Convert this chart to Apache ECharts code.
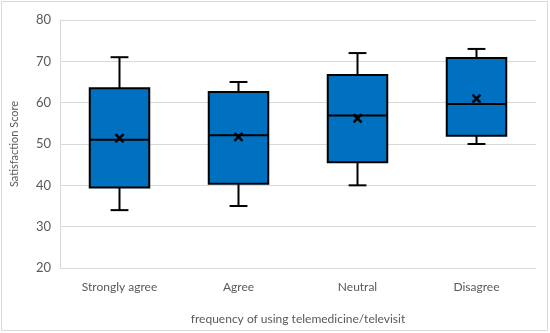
<!DOCTYPE html>
<html>
<head>
<meta charset="utf-8">
<script src="https://cdn.jsdelivr.net/npm/echarts@6/dist/echarts.min.js"></script>
<style>html,body{margin:0;padding:0;background:#fff}#c{width:550px;height:333px}</style>
</head>
<body>
<div id="c"></div>
<script>
var categories = ['Strongly agree', 'Agree', 'Neutral', 'Disagree'];
var whiskerMin = [34, 35, 40, 50];
var q1 = [39.5, 40.4, 45.6, 52.0];
var median = [51.0, 52.1, 56.9, 59.7];
var q3 = [63.5, 62.6, 66.7, 70.8];
var whiskerMax = [71, 65, 72, 73];
var mean = [51.4, 51.7, 56.2, 61.0];
var yTicks = [20, 30, 40, 50, 60, 70, 80];

var data = categories.map(function (c, i) {
  return [i, whiskerMin[i], q1[i], median[i], q3[i], whiskerMax[i], mean[i]];
});

var font = 'Lato, "Open Sans", sans-serif';
var textColor = '#595959';
var chart = echarts.init(document.getElementById('c'), null, {renderer: 'canvas'});

function renderItem(params, api) {
  var idx = api.value(0);
  var band = api.size([1, 0])[0];
  var bw = band * 0.5;
  var cw = band * 0.15;
  var pMin = api.coord([idx, api.value(1)]);
  var pQ1 = api.coord([idx, api.value(2)]);
  var pMed = api.coord([idx, api.value(3)]);
  var pQ3 = api.coord([idx, api.value(4)]);
  var pMax = api.coord([idx, api.value(5)]);
  var pMean = api.coord([idx, api.value(6)]);
  var x = pMed[0];
  var ls = {stroke: '#000', lineWidth: 2};
  var m = 4;
  return {
    type: 'group',
    children: [
      {type: 'line', shape: {x1: x, y1: pMax[1], x2: x, y2: pQ3[1]}, style: ls},
      {type: 'line', shape: {x1: x, y1: pQ1[1], x2: x, y2: pMin[1]}, style: ls},
      {type: 'line', shape: {x1: x - cw / 2, y1: pMax[1], x2: x + cw / 2, y2: pMax[1]}, style: ls},
      {type: 'line', shape: {x1: x - cw / 2, y1: pMin[1], x2: x + cw / 2, y2: pMin[1]}, style: ls},
      {type: 'rect', shape: {x: x - bw / 2, y: pQ3[1], width: bw, height: pQ1[1] - pQ3[1]},
        style: {fill: '#0070C0', stroke: '#000', lineWidth: 2}},
      {type: 'line', shape: {x1: x - bw / 2, y1: pMed[1], x2: x + bw / 2, y2: pMed[1]}, style: ls},
      {type: 'line', shape: {x1: x - m, y1: pMean[1] - m, x2: x + m, y2: pMean[1] + m}, style: {stroke: '#000', lineWidth: 2.5}},
      {type: 'line', shape: {x1: x - m, y1: pMean[1] + m, x2: x + m, y2: pMean[1] - m}, style: {stroke: '#000', lineWidth: 2.5}}
    ]
  };
}

chart.setOption({
  animation: false,
  backgroundColor: '#fff',
  grid: {left: 60, right: 14, top: 20, bottom: 65},
  graphic: [{
    type: 'rect', shape: {x: 1.5, y: 1.5, width: 546, height: 329},
    style: {fill: 'none', stroke: '#d9d9d9', lineWidth: 1}, silent: true
  }],
  xAxis: {
    type: 'category',
    data: categories,
    name: 'frequency of using telemedicine/televisit',
    nameLocation: 'middle',
    nameGap: 45,
    nameTextStyle: {color: textColor, fontFamily: font, fontSize: 12},
    axisLine: {show: true, lineStyle: {color: '#d9d9d9'}},
    axisTick: {show: false},
    axisLabel: {color: textColor, fontFamily: font, fontSize: 12, margin: 13}
  },
  yAxis: {
    type: 'value',
    min: yTicks[0],
    max: yTicks[yTicks.length - 1],
    interval: 10,
    name: 'Satisfaction Score',
    nameLocation: 'middle',
    nameGap: 40,
    nameTextStyle: {color: textColor, fontFamily: font, fontSize: 11},
    axisLine: {show: true, lineStyle: {color: '#d9d9d9'}},
    axisTick: {show: false},
    axisLabel: {color: textColor, fontFamily: font, fontSize: 13, margin: 9},
    splitLine: {show: true, lineStyle: {color: '#d9d9d9'}}
  },
  series: [{
    type: 'custom',
    renderItem: renderItem,
    encode: {x: 0, y: [1, 2, 3, 4, 5, 6]},
    data: data
  }]
});
</script>
</body>
</html>
